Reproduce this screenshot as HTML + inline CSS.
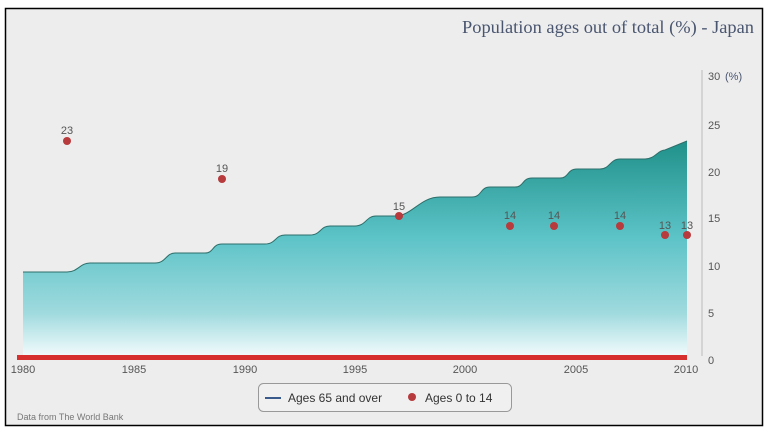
<!DOCTYPE html>
<html><head><style>
body{margin:0;background:#fff;width:768px;height:434px;overflow:hidden}
</style></head><body>
<svg width="768" height="434" xmlns="http://www.w3.org/2000/svg" style="position:absolute;left:0;top:0">
<defs>
<linearGradient id="g" x1="0" y1="140" x2="0" y2="356" gradientUnits="userSpaceOnUse">
<stop offset="0" stop-color="#1f9089"/>
<stop offset="0.45" stop-color="#5cc3c7"/>
<stop offset="0.8" stop-color="#9fdade"/>
<stop offset="1" stop-color="#f2fbfc"/>
</linearGradient>
</defs>
<rect x="5.5" y="8.5" width="757" height="417" fill="#ededed" stroke="#000" stroke-width="1.5"/>
<text x="754" y="33" text-anchor="end" font-family="Liberation Serif, serif" font-size="18" fill="#4a5670" textLength="292" lengthAdjust="spacingAndGlyphs">Population ages out of total (%) - Japan</text>
<path d="M23,272 L67,272 C78,272 80,263 90,263 L155,263 C166,263 166,253 175,253 L205,253 C214,253 212,244 222,244 L265,244 C276,244 275,235 285,235 L310,235 C321,235 320,226 330,226 L355,226 C366,226 366,216 376,216 L395,216 C412,216 420,197 440,197 L472,197 C482,197 480,187 490,187 L515,187 C524,187 522,178 532,178 L560,178 C569,178 567,169 577,169 L600,169 C610,169 610,159 620,159 L645,159 C655,159 658,150 665,150 L687,141 L687,356 L23,356 Z" fill="url(#g)"/>
<path d="M23,272 L67,272 C78,272 80,263 90,263 L155,263 C166,263 166,253 175,253 L205,253 C214,253 212,244 222,244 L265,244 C276,244 275,235 285,235 L310,235 C321,235 320,226 330,226 L355,226 C366,226 366,216 376,216 L395,216 C412,216 420,197 440,197 L472,197 C482,197 480,187 490,187 L515,187 C524,187 522,178 532,178 L560,178 C569,178 567,169 577,169 L600,169 C610,169 610,159 620,159 L645,159 C655,159 658,150 665,150 L687,141" fill="none" stroke="#2d6e6a" stroke-width="1"/>
<line x1="702" y1="70" x2="702" y2="356" stroke="#bbb" stroke-width="1"/>
<rect x="17" y="355" width="670" height="5" fill="#d6312f"/>
<g font-family="Liberation Sans, sans-serif" font-size="11" fill="#555">
<text x="708" y="80">30</text><text x="725" y="80" fill="#4a5670">(%)</text>
<text x="708" y="129">25</text><text x="708" y="176">20</text><text x="708" y="222">15</text>
<text x="708" y="270">10</text><text x="708" y="317">5</text><text x="708" y="364">0</text>
<g text-anchor="middle">
<text x="23" y="373">1980</text><text x="134" y="373">1985</text><text x="245" y="373">1990</text>
<text x="355" y="373">1995</text><text x="465" y="373">2000</text><text x="576" y="373">2005</text><text x="686" y="373">2010</text>
<text x="67" y="134">23</text><text x="222" y="172">19</text><text x="399" y="210">15</text>
<text x="510" y="219">14</text><text x="554" y="219">14</text><text x="620" y="219">14</text>
<text x="665" y="229">13</text><text x="687" y="229">13</text>
</g>
</g>
<g fill="#b73a3c">
<circle cx="67" cy="141" r="4"/><circle cx="222" cy="179" r="4"/><circle cx="399" cy="216" r="4"/>
<circle cx="510" cy="226" r="4"/><circle cx="554" cy="226" r="4"/><circle cx="620" cy="226" r="4"/>
<circle cx="665" cy="235" r="4"/><circle cx="687" cy="235" r="4"/>
</g>
<rect x="258.5" y="383.5" width="253" height="28" rx="5" fill="#f0f0f0" stroke="#999"/>
<line x1="265" y1="398" x2="281" y2="398" stroke="#3a5a8c" stroke-width="2"/>
<text x="288" y="402" font-family="Liberation Sans, sans-serif" font-size="12" fill="#333">Ages 65 and over</text>
<circle cx="412" cy="397" r="4" fill="#b73a3c"/>
<text x="425" y="402" font-family="Liberation Sans, sans-serif" font-size="12" fill="#333">Ages 0 to 14</text>
<text x="17" y="420" font-family="Liberation Sans, sans-serif" font-size="9" fill="#777">Data from The World Bank</text>
</svg>
</body></html>
